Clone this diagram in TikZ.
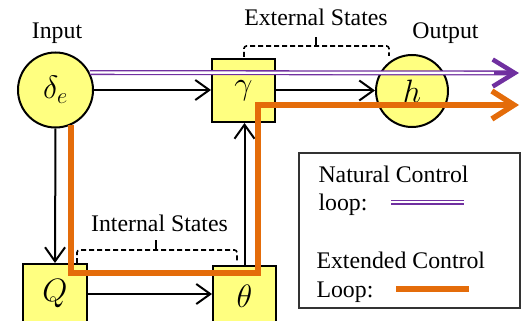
\documentclass[tikz,border=0pt]{standalone}
\usepackage{graphicx}
\usepackage{fontspec}
\setmainfont{Liberation Serif}
\usetikzlibrary{arrows.meta,calc}
\definecolor{stateyellow}{RGB}{255,255,128}
\definecolor{natpurple}{RGB}{112,48,160}
\definecolor{extorange}{RGB}{228,108,10}
\newcommand{\statesym}[1]{\scalebox{1.3}{$#1$}}

\begin{document}
\begin{tikzpicture}[x=1pt,y=-1pt,
    font=\fontsize{23.8}{28.5}\selectfont,
    blk/.style={draw, line width=2pt, fill=stateyellow, minimum width=63pt, minimum height=63pt, inner sep=0pt},
    circ/.style={draw, circle, line width=2pt, fill=stateyellow, minimum size=74pt, inner sep=0pt},
    sig/.style={line width=2pt, -{Straight Barb[length=14pt,width=20pt]}},
    brace/.style={line width=1.6pt, dash pattern=on 5pt off 3pt, rounded corners=2.5pt},
    natloop/.style={natpurple, line width=1.3pt, double=white, double distance=2.4pt},
    extloop/.style={extorange, line width=5.5pt}]
\clip (0,0) rectangle (525,321);

\node[circ, minimum size=75pt] (DE) at (55.5,90) {\statesym{\delta_e}};
\node[blk] (GAMMA) at (243.5,90.5) {\statesym{\gamma}};
\node[circ, minimum size=72pt] (H) at (412,91) {\statesym{h}};
\node[blk, minimum width=64pt, minimum height=60pt] (Q) at (55,294) {\statesym{Q}};
\node[blk, minimum height=60pt] (THETA) at (244.5,296) {\statesym{\theta}};

\draw[sig] (DE.east) -- (DE.east -| GAMMA.west);
\draw[sig] (GAMMA.east) -- (GAMMA.east -| H.west);
\draw[sig] (DE.south) -- (Q.north);
\draw[sig] (Q.east) -- (Q.east -| THETA.west);
\draw[sig] (THETA.north) -- (THETA.north |- GAMMA.south);

% state braces
\draw[brace] ($ (GAMMA.north west) + (33,-1) $) coordinate (EXT1)
    -- ++(0,-11) -- ++(145,0) coordinate (EXT2) -- ++(0,10);
\draw[line width=1.6pt] ($ (EXT1) + (72,-12) $) coordinate (EXTMID) -- ++(0,-8);
\draw[brace] ($ (Q.north east) + (-11,0) $) coordinate (INT1)
    -- ++(0,-13) -- ++(160,0) coordinate (INT2) -- ++(0,12);
\draw[line width=1.6pt] ($ (INT1) + (79,-13) $) coordinate (INTMID) -- ++(0,-10);

% control loops
\coordinate (LOOPBOT) at (258,273);
\coordinate (EXTEND) at (519,105);
\coordinate (NATEND) at (519,73);
\draw[extloop, -{Straight Barb[length=22pt,width=28pt]}] (DE.-66) |- (LOOPBOT) |- (EXTEND);
\draw[natloop] (DE.27) -- ($ (NATEND) + (-12,0) $);
\draw[natpurple, line width=4.5pt, -{Straight Barb[length=22pt,width=27pt]}] ($ (NATEND) + (-25,0) $) -- (NATEND);

\node[anchor=base] (INPUT) at (57,39) {Input};
\node[anchor=base] (OUTPUT) at (445.5,39) {Output};
\node[anchor=base] (EXTLBL) at (316,26) {External States};
\node[anchor=base] (INTLBL) at (159.5,231) {Internal States};

% legend
\node[draw, line width=1.3pt, draw=black!80, minimum width=221pt, minimum height=155pt] (LEGEND) at (409.5,230.5) {};
\node[anchor=base west] (NAT1) at (315,182) {Natural Control};
\node[anchor=base west] (NAT2) at (315,210) {loop:};
\node[anchor=base west] (EXT1L) at (313,268) {Extended Control};
\node[anchor=base west] (EXT2L) at (313,297) {Loop:};
\coordinate (NATA) at (391,202);
\coordinate (NATB) at (464,202);
\coordinate (EXTA) at (396,289);
\coordinate (EXTB) at (469,289);
\draw[natloop] (NATA) -- (NATB);
\draw[extloop, line width=6.5pt] (EXTA) -- (EXTB);
\end{tikzpicture}
\end{document}
